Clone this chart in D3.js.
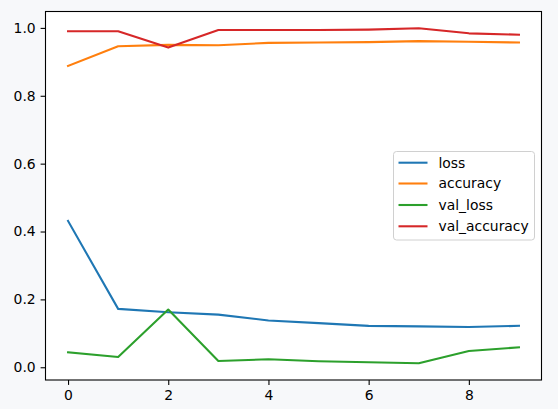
<!DOCTYPE html>
<html><head><meta charset="utf-8">
<script src="https://cdn.jsdelivr.net/npm/d3@7"></script>
<style>
html,body{margin:0;padding:0;background:#f7f8fa;}
svg{display:block;}
text{font-family:"DejaVu Sans",sans-serif;}
</style></head>
<body>
<script>
const epochs = [0,1,2,3,4,5,6,7,8,9];
const loss = [0.431,0.172,0.162,0.155,0.138,0.130,0.122,0.1205,0.1185,0.122];
const accuracy = [0.888,0.946,0.950,0.949,0.956,0.957,0.958,0.961,0.959,0.957];
const valLoss = [0.044,0.030,0.170,0.0185,0.0235,0.0176,0.0147,0.0118,0.048,0.0588];
const valAccuracy = [0.990,0.990,0.942,0.994,0.994,0.994,0.995,0.999,0.984,0.980];
const seriesNames = ["loss","accuracy","val_loss","val_accuracy"];
const colors = ["#1f77b4","#ff7f0e","#2ca02c","#d62728"];
const xTicks = [0,2,4,6,8];
const yTicks = [0.0,0.2,0.4,0.6,0.8,1.0];

const W=558,H=409;
const L=45.5,R=541.5,T=11.5,B=380;
const svg=d3.select("body").append("svg").attr("width",W).attr("height",H);
svg.append("rect").attr("x",L).attr("y",T).attr("width",R-L).attr("height",B-T).attr("fill","#fff");

const series=[loss,accuracy,valLoss,valAccuracy];
const all=series.flat();
const ymin=d3.min(all),ymax=d3.max(all),yr=ymax-ymin;
const x=d3.scaleLinear().domain([-0.45,9.45]).range([L,R]);
const y=d3.scaleLinear().domain([ymin-0.05*yr,ymax+0.05*yr]).range([B,T]);

const line=d3.line().x((d,i)=>x(epochs[i])).y(d=>y(d));
series.forEach((s,k)=>{
  svg.append("path").datum(s).attr("d",line).attr("fill","none")
    .attr("stroke",colors[k]).attr("stroke-width",2.08).attr("stroke-linejoin","round").attr("stroke-linecap","square");
});

const xa=svg.append("g").attr("transform",`translate(0,${B})`)
  .call(d3.axisBottom(x).tickValues(xTicks).tickFormat(d3.format("d")).tickSizeOuter(0).tickSize(4.9).tickPadding(4.9));
const ya=svg.append("g").attr("transform",`translate(${L},0)`)
  .call(d3.axisLeft(y).tickValues(yTicks).tickFormat(d3.format(".1f")).tickSizeOuter(0).tickSize(4.9).tickPadding(4.9));
[xa,ya].forEach(a=>{
  a.select(".domain").remove();
  a.selectAll("text").attr("font-size","13.9px").attr("fill","#000").attr("font-family","DejaVu Sans");
  a.selectAll("line").attr("stroke","#000").attr("stroke-width",1.1);
});
svg.append("rect").attr("x",L).attr("y",T).attr("width",R-L).attr("height",B-T)
  .attr("fill","none").attr("stroke","#000").attr("stroke-width",1.1);

// legend
const lg=svg.append("g");
lg.append("rect").attr("x",393.5).attr("y",151.5).attr("width",141).attr("height",88.5)
  .attr("rx",3).attr("fill","#fff").attr("fill-opacity",0.8).attr("stroke","#d0d0d0").attr("stroke-width",1);
const ly=[162.7,183.5,205,226.3];
seriesNames.forEach((n,k)=>{
  lg.append("line").attr("x1",398.5).attr("x2",427.5).attr("y1",ly[k]).attr("y2",ly[k])
    .attr("stroke",colors[k]).attr("stroke-width",2.08);
  lg.append("text").attr("x",438.5).attr("y",ly[k]).attr("dy","0.35em")
    .attr("font-size","13.9px").attr("fill","#000").text(n);
});
</script>
</body></html>
